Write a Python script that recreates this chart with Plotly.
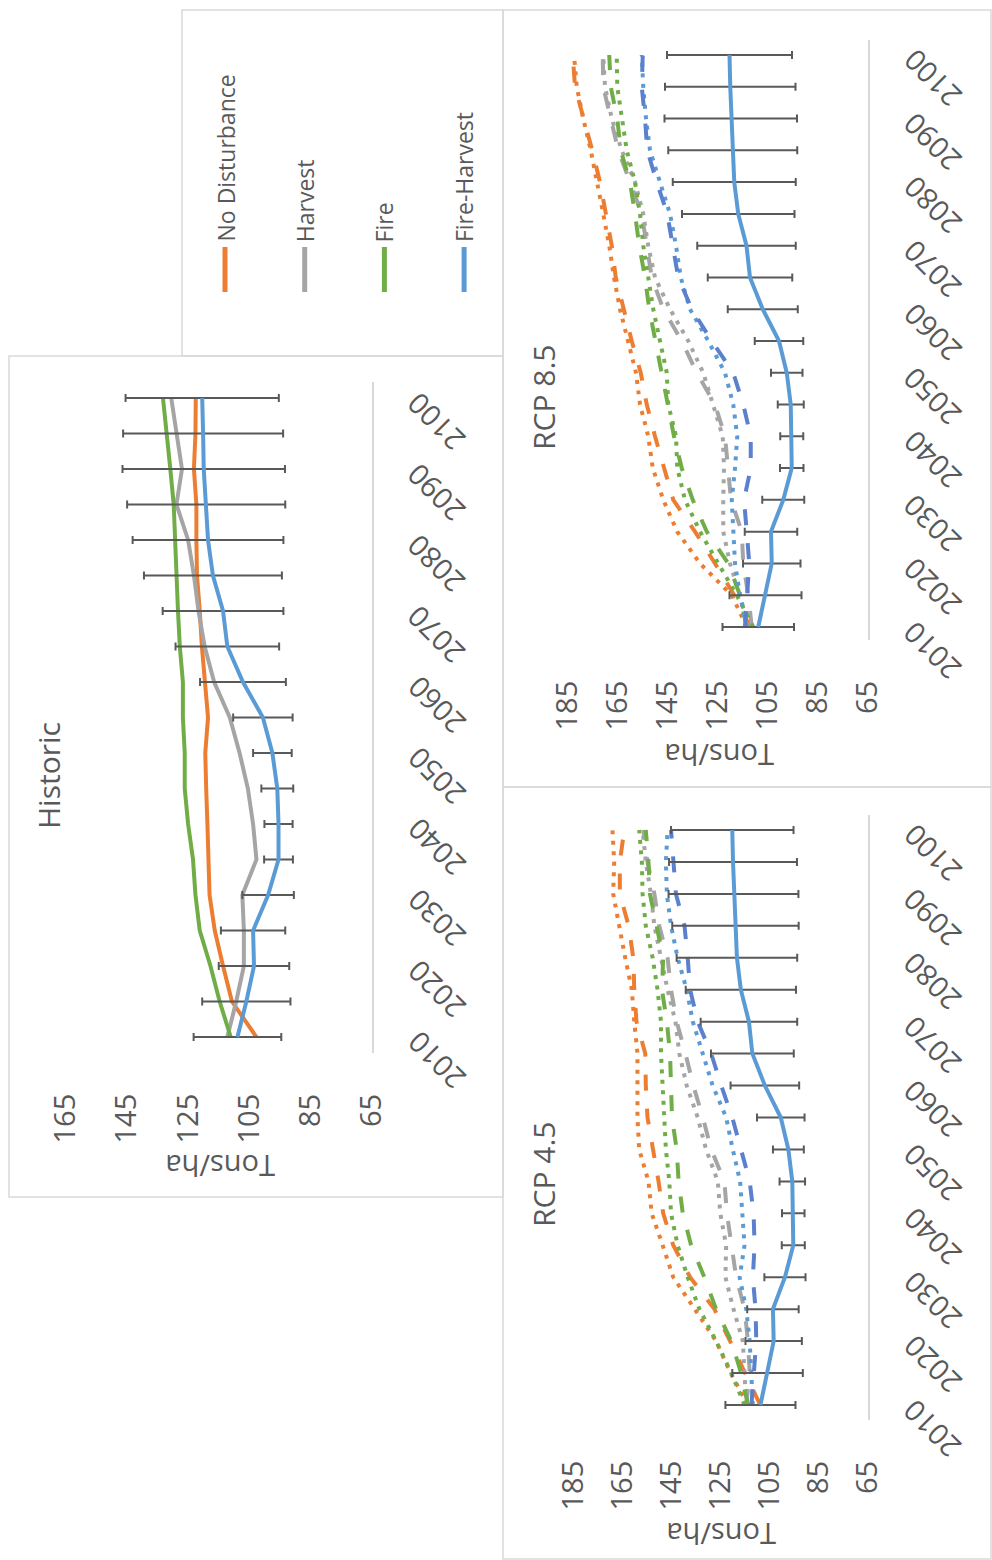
import plotly.graph_objects as go

W, H = 992, 1560

# ---------------- data ----------------
YEARS = list(range(2010, 2101, 5))
YEAR_TICKS = list(range(2010, 2101, 10))
SCENARIOS = ["No Disturbance", "Harvest", "Fire", "Fire-Harvest"]

# Historic climate (Tons/ha)
hist_no_disturbance = [102.7, 110.7, 113.6, 116.3, 118.0, 118.5, 118.7, 119.1, 119.4, 118.5,
                       119.6, 120.5, 121.2, 122.1, 122.3, 122.3, 123.1, 122.6, 122.5]
hist_harvest = [112.2, 109.3, 106.8, 106.8, 107.3, 102.7, 103.8, 105.5, 108.2, 111.4,
                116.5, 119.6, 121.6, 123.1, 125.0, 128.8, 127.0, 128.7, 130.5]
hist_fire = [111.1, 114.7, 117.7, 121.2, 122.6, 123.4, 125.0, 126.1, 126.1, 126.7,
             126.7, 127.7, 128.3, 128.8, 129.4, 129.7, 130.8, 132.1, 133.2]
hist_fire_harvest = [108.9, 106.0, 103.5, 103.8, 98.9, 95.5, 95.5, 95.9, 97.5, 100.6,
                     107.1, 112.2, 113.6, 116.9, 118.5, 119.1, 119.9, 120.1, 120.4]
hist_fire_harvest_err = [14.3, 14.4, 11.5, 10.5, 8.4, 4.7, 4.6, 5.2, 6.3, 9.7,
                         14.0, 16.9, 19.7, 22.5, 24.6, 25.8, 26.5, 26.1, 25.0]

# RCP 4.5 (dotted / dashed runs)
rcp45_no_disturbance_dot = [114.0, 121.1, 127.0, 135.9, 144.5, 148.8, 153.3, 154.6, 158.4, 159.1,
                            159.1, 159.1, 160.4, 161.4, 164.1, 166.6, 169.0, 168.6, 169.3]
rcp45_no_disturbance_dash = [109.0, 115.0, 121.3, 127.7, 137.6, 144.5, 148.6, 150.5, 152.9, 155.0,
                             155.7, 155.9, 159.5, 160.4, 160.8, 162.7, 166.3, 166.3, 164.5]
rcp45_harvest_dot = [114.7, 115.4, 116.1, 119.9, 123.2, 122.9, 125.3, 126.3, 131.1, 134.5,
                     139.0, 142.0, 143.6, 146.8, 149.5, 152.2, 153.6, 155.7, 157.0]
rcp45_harvest_dash = [114.7, 113.3, 114.0, 115.4, 118.8, 120.8, 122.6, 123.6, 129.0, 132.4,
                      136.3, 139.5, 143.1, 145.4, 146.8, 150.2, 152.2, 155.0, 156.7]
rcp45_fire_dot = [115.4, 120.8, 127.0, 133.8, 138.6, 142.7, 145.4, 146.1, 147.5, 148.1,
                  148.8, 149.5, 149.5, 150.9, 152.9, 155.7, 157.0, 157.3, 158.4]
rcp45_fire_dash = [114.0, 116.8, 120.8, 127.0, 131.8, 137.2, 140.6, 142.3, 143.1, 145.0,
                   145.4, 145.8, 147.1, 149.1, 148.6, 151.3, 154.0, 154.6, 155.7]
rcp45_fire_harvest_dot = [112.0, 112.6, 113.3, 114.7, 117.4, 115.4, 116.3, 117.2, 120.2, 122.9,
                          128.4, 132.4, 136.5, 139.0, 142.7, 145.4, 147.1, 147.5, 146.8]
rcp45_fire_harvest_dash = [112.6, 111.7, 110.6, 110.9, 112.0, 111.3, 111.7, 113.3, 116.7, 120.4,
                           124.9, 129.0, 134.5, 137.6, 138.6, 139.9, 143.4, 144.5, 145.4]

# RCP 8.5 (dotted / dashed runs)
rcp85_no_disturbance_dot = [113.5, 119.5, 132.2, 141.3, 146.9, 151.1, 152.9, 156.2, 157.8, 160.9,
                            164.2, 166.6, 168.5, 170.9, 173.3, 175.9, 178.9, 181.5, 182.6]
rcp85_no_disturbance_dash = [112.2, 118.5, 126.2, 134.2, 142.9, 146.6, 150.2, 153.5, 155.9, 159.5,
                             162.9, 165.9, 167.5, 169.8, 172.2, 175.3, 178.6, 182.2, 183.1]
rcp85_harvest_dot = [112.9, 116.2, 120.2, 122.9, 122.9, 122.6, 123.1, 126.9, 130.9, 136.9,
                     144.2, 150.2, 152.9, 154.9, 158.2, 163.5, 167.5, 170.2, 170.9]
rcp85_harvest_dash = [111.5, 112.9, 114.9, 115.5, 119.8, 120.9, 122.2, 126.2, 133.5, 139.5,
                      146.9, 151.5, 153.3, 155.5, 160.2, 164.9, 167.9, 170.9, 171.1]
rcp85_fire_dot = [110.9, 117.5, 124.9, 132.2, 138.2, 141.3, 141.8, 144.9, 145.5, 148.2,
                  150.9, 152.9, 154.9, 156.2, 158.2, 161.5, 163.5, 165.3, 165.5]
rcp85_fire_dash = [113.5, 116.2, 120.9, 129.5, 135.1, 139.5, 142.6, 145.1, 147.5, 149.8,
                   152.5, 154.2, 156.5, 158.2, 160.2, 163.9, 165.3, 167.9, 168.5]
rcp85_fire_harvest_dot = [113.5, 116.2, 118.2, 118.9, 119.5, 118.2, 117.3, 118.9, 122.2, 128.9,
                          136.2, 139.9, 141.8, 144.2, 148.2, 152.2, 153.8, 154.9, 155.5]
rcp85_fire_harvest_dash = [114.2, 113.5, 112.5, 113.5, 114.6, 111.9, 111.9, 114.9, 118.9, 127.5,
                           135.5, 140.9, 142.9, 145.3, 149.5, 153.3, 154.2, 155.5, 155.1]

# ---------------- styling ----------------
ORANGE, GRAY, GREEN, BLUE, BLUE_DASH = "#ED7D31", "#A5A5A5", "#70AD47", "#5B9BD5", "#5A80CE"
TEXT = "#595959"
FRAME = "#D9D9D9"
FONT = "Open Sans"
DOT = "4px,6.5px"
DASH = "16px,18px"
LW = 4


def px(x):
    return x / W


def py(y):
    return 1 - y / H


fig = go.Figure()


def add_line(ax, values, color, dash="solid", err=None):
    xa, ya = ("x", "y") if ax == 1 else (f"x{ax}", f"y{ax}")
    kw = {}
    if err is not None:
        kw["error_x"] = dict(type="data", array=err, symmetric=True, color=TEXT,
                             thickness=2, width=4)
    fig.add_trace(go.Scatter(x=values, y=YEARS, xaxis=xa, yaxis=ya, mode="lines",
                             line=dict(color=color, width=LW, dash=dash),
                             hoverinfo="skip", showlegend=False, **kw))


# Historic panel
add_line(1, hist_no_disturbance, ORANGE)
add_line(1, hist_harvest, GRAY)
add_line(1, hist_fire, GREEN)
add_line(1, hist_fire_harvest, BLUE, err=hist_fire_harvest_err)

# RCP panels
for ax, runs in [
    (2, [(rcp85_no_disturbance_dot, ORANGE, DOT), (rcp85_no_disturbance_dash, ORANGE, DASH),
         (rcp85_harvest_dot, GRAY, DOT), (rcp85_harvest_dash, GRAY, DASH),
         (rcp85_fire_dot, GREEN, DOT), (rcp85_fire_dash, GREEN, DASH),
         (rcp85_fire_harvest_dot, BLUE, DOT), (rcp85_fire_harvest_dash, BLUE_DASH, DASH)]),
    (3, [(rcp45_no_disturbance_dot, ORANGE, DOT), (rcp45_no_disturbance_dash, ORANGE, DASH),
         (rcp45_harvest_dot, GRAY, DOT), (rcp45_harvest_dash, GRAY, DASH),
         (rcp45_fire_dot, GREEN, DOT), (rcp45_fire_dash, GREEN, DASH),
         (rcp45_fire_harvest_dot, BLUE, DOT), (rcp45_fire_harvest_dash, BLUE_DASH, DASH)]),
]:
    for vals, col, dsh in runs:
        add_line(ax, vals, col, dsh)
    # historic fire-harvest reference with spread
    add_line(ax, hist_fire_harvest, BLUE, err=hist_fire_harvest_err)

# ---------------- panel geometry (pixels) ----------------
panels = {
    1: dict(title="Historic", vmax=165, x0=65.5, x1=372, ytop=382, ybot=1053,
            yr=[2007.75, 2102.25], title_xy=(48, 776), unit_xy=(220, 1167)),
    2: dict(title="RCP 8.5", vmax=185, x0=568, x1=868, ytop=40, ybot=640,
            yr=[2007.95, 2102.36], title_xy=(543, 398), unit_xy=(719, 756)),
    3: dict(title="RCP 4.5", vmax=185, x0=574, x1=868, ytop=815, ybot=1420,
            yr=[2007.65, 2102.35], title_xy=(543, 1175), unit_xy=(721, 1535)),
}

layout = dict(width=W, height=H, margin=dict(l=0, r=0, t=0, b=0, pad=0, autoexpand=False),
              paper_bgcolor="white", plot_bgcolor="white", showlegend=False,
              font=dict(family=FONT, color=TEXT))
annotations = []
shapes = []

for k, p in panels.items():
    sx = "" if k == 1 else str(k)
    layout[f"xaxis{sx}"] = dict(
        domain=[px(p["x0"]), px(p["x1"])], range=[p["vmax"], 65], anchor=f"y{sx}",
        tickvals=list(range(65, p["vmax"] + 1, 20)), tickangle=-90, ticks="",
        showgrid=False, zeroline=False, showline=False, ticklabelstandoff=34,
        automargin=False, tickfont=dict(family=FONT, size=29, color=TEXT), fixedrange=True)
    layout[f"yaxis{sx}"] = dict(
        domain=[py(p["ybot"]), py(p["ytop"])], range=p["yr"], anchor=f"x{sx}",
        side="right", showticklabels=False, ticks="", showgrid=False, zeroline=False,
        automargin=False, showline=True, linecolor=FRAME, linewidth=1.5, fixedrange=True)
    # year labels
    for yv in YEAR_TICKS:
        annotations.append(dict(
            text=str(yv), xref="paper", yref=f"y{sx}", x=px(p["x1"] + 64), y=yv,
            yshift=-24, textangle=-135, showarrow=False, xanchor="center",
            yanchor="middle", font=dict(family=FONT, size=29, color=TEXT)))
    # panel title
    tx, ty = p["title_xy"]
    annotations.append(dict(text=p["title"], xref="paper", yref="paper", x=px(tx), y=py(ty),
                            textangle=-90, showarrow=False, xanchor="center", yanchor="middle",
                            font=dict(family=FONT, size=30, color=TEXT)))
    # unit label
    ux, uy = p["unit_xy"]
    annotations.append(dict(text="Tons/ha", xref="paper", yref="paper", x=px(ux), y=py(uy),
                            textangle=180, showarrow=False, xanchor="center", yanchor="middle",
                            font=dict(family=FONT, size=29, color=TEXT)))

# chart frames
for x0, y0, x1, y1 in [(182, 10, 503, 356), (9, 356, 503, 1197),
                       (503, 10, 991, 787), (503, 787, 991, 1559)]:
    shapes.append(dict(type="rect", xref="paper", yref="paper", x0=px(x0), x1=px(x1),
                       y0=py(y1), y1=py(y0), line=dict(color=FRAME, width=1.5),
                       fillcolor="rgba(0,0,0,0)", layer="below"))

# legend: short vertical strokes with rotated names
for i, (name, col) in enumerate(zip(SCENARIOS, [ORANGE, GRAY, GREEN, BLUE])):
    lx = 225 + i * 79.7
    shapes.append(dict(type="line", xref="paper", yref="paper", x0=px(lx), x1=px(lx),
                       y0=py(292), y1=py(247), line=dict(color=col, width=5)))
    annotations.append(dict(text=name, xref="paper", yref="paper", x=px(lx), y=py(244),
                            textangle=-90, showarrow=False, xanchor="center", yanchor="bottom",
                            font=dict(family=FONT, size=23, color=TEXT)))

layout["annotations"] = annotations
layout["shapes"] = shapes
fig.update_layout(**layout)
fig.write_html("out.html")
